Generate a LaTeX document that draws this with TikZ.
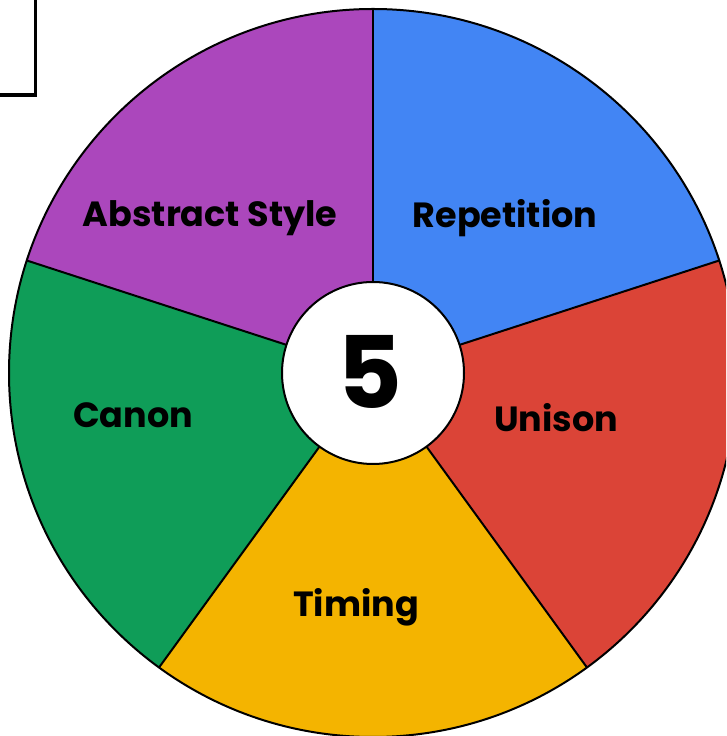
\documentclass[tikz,border=0pt]{standalone}
\usepackage{fontspec}
\setmainfont{Poppins}
\definecolor{gblue}{HTML}{4285F4}
\definecolor{gred}{HTML}{DB4437}
\definecolor{gyellow}{HTML}{F4B400}
\definecolor{ggreen}{HTML}{0F9D58}
\definecolor{gpurple}{HTML}{AB47BC}
\tikzset{
  lbl/.style={font=\fontsize{35}{38}\selectfont\bfseries, text=black, inner sep=0pt},
  edge/.style={draw=black, line width=2pt},
}
\begin{document}
\begin{tikzpicture}[x=1pt,y=1pt]
\useasboundingbox (0,0) rectangle (726,736);
\begin{scope}
\clip (0,0) rectangle (726,736);
\coordinate (c) at (373,363);
\def\R{364}
\fill[gblue]   (c) -- ++(18:\R)  arc[start angle=18,  end angle=90,  radius=\R] -- cycle;
\fill[gpurple] (c) -- ++(90:\R)  arc[start angle=90,  end angle=162, radius=\R] -- cycle;
\fill[ggreen]  (c) -- ++(162:\R) arc[start angle=162, end angle=234, radius=\R] -- cycle;
\fill[gyellow] (c) -- ++(234:\R) arc[start angle=234, end angle=306, radius=\R] -- cycle;
\fill[gred]    (c) -- ++(306:\R) arc[start angle=306, end angle=378, radius=\R] -- cycle;
\foreach \a in {18,90,162,234,306} \draw[edge] (c) -- ++(\a:\R);
\draw[edge] (c) circle[radius=\R];
\node[circle, fill=white, draw=black, line width=2pt, minimum size=182pt, inner sep=0pt] (hub) at (c) {};
\draw[line width=3.5pt] (-10,641) rectangle (35.5,750);
\end{scope}
\node[lbl] (abs) at (210,518) {Abstract Style};
\node[lbl] (rep) at (505,518) {Repetition};
\node[lbl] (can) at (133,321) {Canon};
\node[lbl] (uni) at (556,318) {Unison};
\node[lbl] (tim) at (356,129) {Timing};
\node[font=\fontsize{100}{110}\selectfont\bfseries, inner sep=0pt] (five) at (370,364) {5};
\end{tikzpicture}
\end{document}
